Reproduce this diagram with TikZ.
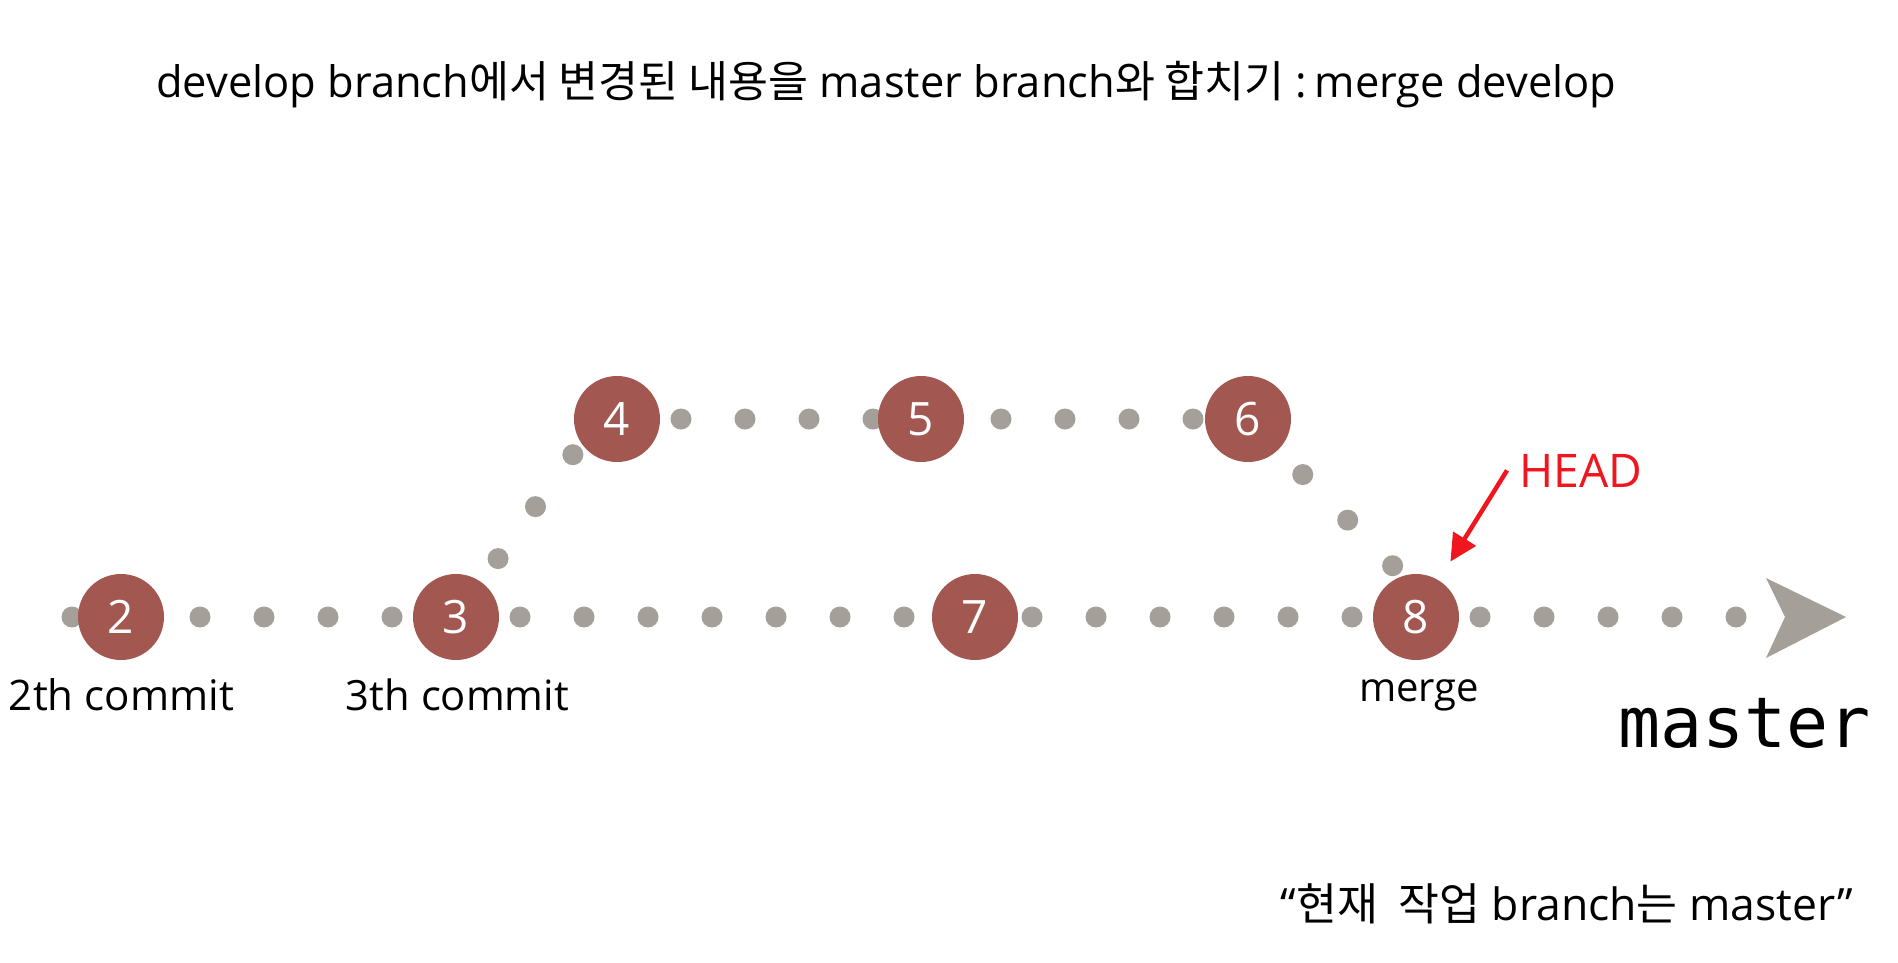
\documentclass[tikz,border=0pt]{standalone}
\usepackage{fontspec}
\setmainfont{Open Sans}
\newfontfamily\kr{Noto Sans CJK KR}
\newfontfamily\mono{DejaVu Sans Mono}
\usetikzlibrary{backgrounds,arrows.meta}
\definecolor{commitred}{RGB}{163,87,81}
\definecolor{dotgray}{RGB}{164,159,152}
\definecolor{headred}{RGB}{240,22,30}
\begin{document}
\begin{tikzpicture}[x=1pt,y=-1pt,
  commit/.style={circle,fill=commitred,minimum size=86pt,inner sep=0pt,text=white,
    font=\fontsize{46}{46}\selectfont},
  dotline/.style={draw=dotgray,line width=21pt,line cap=round,dash pattern=on 0pt off 64pt},
  lbl/.style={inner sep=0pt,anchor=base},
  headarrow/.style={draw=headred,line width=4.5pt,-{Triangle[length=27pt,width=26pt]}}
]
\useasboundingbox (0,0) rectangle (1898,962);

% title
\node[anchor=base west,inner sep=0pt] (title) at (156,97)
  {\resizebox{1460pt}{!}{\fontsize{44}{44}\selectfont develop branch{\kr 에서 변경된 내용을} master branch{\kr 와 합치기} :\thinspace merge develop}};

% commits
\node[commit] (n2) at (121,617) {2};
\node[commit] (n3) at (456,617) {3};
\node[commit] (n4) at (617,419) {4};
\node[commit] (n5) at (921,419) {5};
\node[commit] (n6) at (1248,419) {6};
\node[commit] (n7) at (975,617) {7};
\node[commit] (n8) at (1416,617) {8};

\coordinate (s0) at (72,617);
\coordinate (tip) at (1846,617);

% labels
\node[lbl] (l2) at (121.5,710) {\resizebox{225pt}{!}{\fontsize{42}{42}\selectfont 2th commit}};
\node[lbl] (l3) at (457.5,710) {\resizebox{223pt}{!}{\fontsize{42}{42}\selectfont 3th commit}};
\node[lbl] (l8) at (1419,701) {\resizebox{120pt}{!}{\fontsize{40}{40}\selectfont merge}};
\node[lbl,font=\mono\fontsize{70}{70}\selectfont] (lm) at (1744.5,747) {master};
\node[anchor=base west,inner xsep=12pt,inner ysep=0pt,text=headred] (head) at (1507,487)
  {\resizebox{123pt}{!}{\fontsize{44}{44}\selectfont HEAD}};
\node[lbl] (cur) at (1567,920)
  {\resizebox{572pt}{!}{\fontsize{42}{42}\selectfont “{\kr 현재~~작업} branch{\kr 는} master”}};

% connectors
\begin{scope}[on background layer]
  \fill[white] (0,0) rectangle (1898,962);
  \draw[dotline] (s0) -- (n2.center) -- (n3.center) -- (n7.center) -- (n8.center) -- ([xshift=-46pt]tip);
  \draw[dotline] (n4.center) -- (n5.center) -- (n6.center);
  \draw[dotline,dash phase=56pt] (n3.center) -- (n4.214);
  \draw[dotline,dash phase=50pt] (n6.center) -- (n8.108);
\end{scope}
\fill[dotgray] (tip) -- ++(-80,-39) -- ++(19,39) -- ++(-19,41) -- cycle;

\draw[headarrow,shorten >=22pt] (head.west) -- (n8);
\end{tikzpicture}
\end{document}
